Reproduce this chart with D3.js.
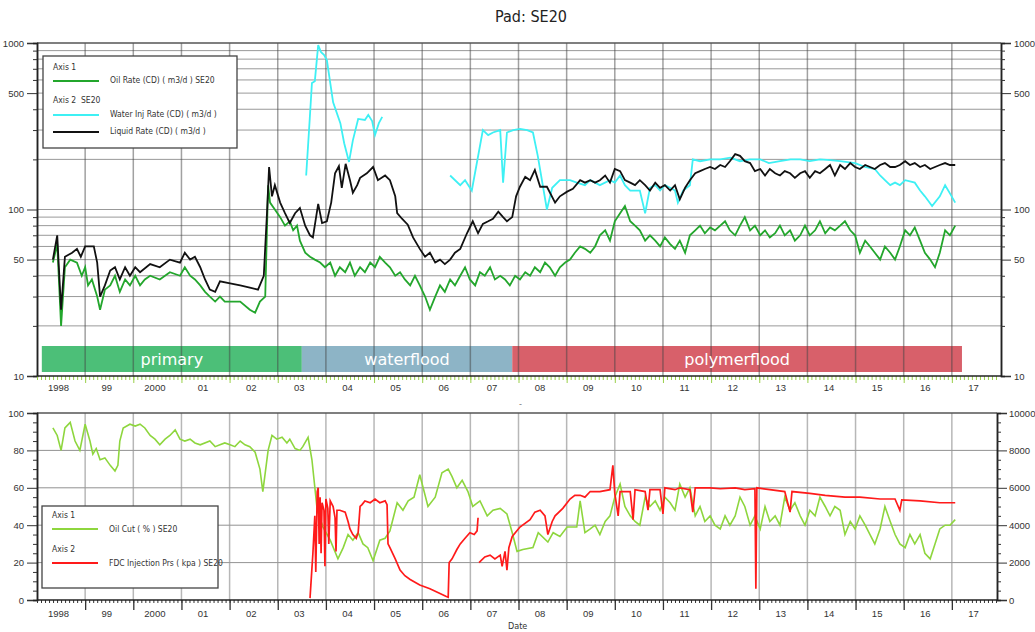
<!DOCTYPE html>
<html>
<head>
<meta charset="utf-8">
<script src="https://cdn.jsdelivr.net/npm/d3@7"></script>
<style>
  body { margin: 0; background: #fff; }
  svg { display: block; font-family: "Liberation Sans Narrow", "Arial Narrow", "DejaVu Sans Condensed", sans-serif; font-stretch: condensed; }
</style>
</head>
<body>
<svg id="chart" width="1035" height="632"></svg>
<script>
/* Pad SE20 production history: rates on a log axis (top),
   oil cut and injection pressure (bottom). Dates are decimal years. */

var oilRate = [[1998.33,48],[1998.42,62],[1998.50,20],[1998.58,45],[1998.69,50],[1998.83,48],[1998.93,40],[1999.00,45],[1999.06,35],[1999.14,38],[1999.25,30],[1999.31,25],[1999.41,33],[1999.52,35],[1999.62,40],[1999.72,32],[1999.83,38],[1999.93,35],[2000.04,40],[2000.14,35],[2000.24,38],[2000.35,40],[2000.55,38],[2000.76,42],[2000.97,40],[2001.07,45],[2001.18,40],[2001.28,38],[2001.39,35],[2001.49,32],[2001.59,30],[2001.70,28],[2001.80,30],[2001.90,28],[2002.01,28],[2002.22,28],[2002.42,25],[2002.53,24],[2002.63,28],[2002.74,30],[2002.80,140],[2002.84,110],[2002.94,100],[2003.05,90],[2003.15,80],[2003.25,85],[2003.32,75],[2003.40,80],[2003.46,65],[2003.57,55],[2003.67,52],[2003.77,50],[2003.88,48],[2003.98,45],[2004.09,48],[2004.19,40],[2004.29,45],[2004.40,42],[2004.50,48],[2004.60,40],[2004.71,45],[2004.81,42],[2004.92,48],[2005.02,45],[2005.12,52],[2005.23,48],[2005.33,45],[2005.44,40],[2005.54,42],[2005.64,38],[2005.75,35],[2005.85,40],[2005.95,35],[2006.06,30],[2006.16,25],[2006.27,30],[2006.37,35],[2006.47,32],[2006.58,38],[2006.68,35],[2006.79,40],[2006.89,45],[2006.99,38],[2007.10,35],[2007.20,42],[2007.30,40],[2007.41,45],[2007.51,38],[2007.62,40],[2007.72,38],[2007.82,35],[2007.93,40],[2008.03,38],[2008.14,42],[2008.24,40],[2008.34,45],[2008.45,42],[2008.55,48],[2008.65,45],[2008.76,40],[2008.86,45],[2008.97,48],[2009.07,50],[2009.17,55],[2009.28,60],[2009.38,58],[2009.49,55],[2009.59,60],[2009.69,70],[2009.80,75],[2009.90,65],[2010.00,85],[2010.11,95],[2010.21,105],[2010.32,85],[2010.42,80],[2010.52,75],[2010.63,65],[2010.73,70],[2010.84,65],[2010.94,60],[2011.04,68],[2011.15,62],[2011.25,58],[2011.35,65],[2011.46,55],[2011.56,70],[2011.67,75],[2011.77,80],[2011.87,72],[2011.98,78],[2012.08,75],[2012.19,80],[2012.29,85],[2012.39,75],[2012.50,70],[2012.60,80],[2012.70,90],[2012.81,75],[2012.91,80],[2013.02,70],[2013.12,75],[2013.22,68],[2013.33,72],[2013.43,80],[2013.53,70],[2013.64,75],[2013.74,65],[2013.85,70],[2013.95,80],[2014.05,70],[2014.16,75],[2014.26,85],[2014.37,72],[2014.47,78],[2014.57,75],[2014.68,80],[2014.78,85],[2014.89,75],[2014.99,70],[2015.09,55],[2015.20,65],[2015.30,60],[2015.40,55],[2015.51,50],[2015.61,60],[2015.72,55],[2015.82,50],[2015.92,60],[2016.03,75],[2016.13,70],[2016.23,78],[2016.34,65],[2016.44,55],[2016.55,50],[2016.65,45],[2016.75,55],[2016.86,75],[2016.96,70],[2017.07,80]];

var liquidRate = [[1998.33,50],[1998.42,70],[1998.50,25],[1998.58,52],[1998.73,55],[1998.83,58],[1998.91,52],[1999.00,60],[1999.18,60],[1999.25,48],[1999.31,30],[1999.41,35],[1999.52,43],[1999.62,45],[1999.72,38],[1999.83,45],[1999.93,40],[2000.04,45],[2000.14,42],[2000.35,47],[2000.55,45],[2000.76,50],[2000.97,48],[2001.07,55],[2001.18,50],[2001.28,52],[2001.39,45],[2001.49,38],[2001.59,33],[2001.70,32],[2001.80,37],[2002.01,36],[2002.22,35],[2002.42,34],[2002.59,33],[2002.71,40],[2002.78,100],[2002.82,180],[2002.88,120],[2002.94,140],[2003.05,110],[2003.15,95],[2003.25,83],[2003.36,95],[2003.46,102],[2003.57,80],[2003.67,70],[2003.73,68],[2003.84,108],[2003.92,83],[2004.02,85],[2004.11,110],[2004.19,165],[2004.27,182],[2004.33,135],[2004.41,188],[2004.50,150],[2004.56,126],[2004.65,140],[2004.71,155],[2004.85,165],[2004.98,180],[2005.08,150],[2005.23,160],[2005.33,150],[2005.44,120],[2005.48,95],[2005.58,88],[2005.70,81],[2005.81,68],[2005.95,58],[2006.06,52],[2006.16,55],[2006.27,48],[2006.37,50],[2006.47,47],[2006.58,50],[2006.68,55],[2006.79,58],[2006.93,72],[2007.05,85],[2007.16,72],[2007.26,82],[2007.37,85],[2007.47,88],[2007.58,97],[2007.68,90],[2007.76,85],[2007.87,90],[2007.95,120],[2008.03,137],[2008.14,157],[2008.24,150],[2008.34,173],[2008.45,137],[2008.59,137],[2008.76,110],[2008.86,120],[2009.01,128],[2009.13,133],[2009.28,150],[2009.38,145],[2009.49,150],[2009.59,145],[2009.69,150],[2009.80,160],[2009.90,145],[2010.00,175],[2010.11,170],[2010.21,150],[2010.32,145],[2010.42,140],[2010.52,150],[2010.63,140],[2010.73,130],[2010.84,145],[2010.94,135],[2011.04,140],[2011.15,130],[2011.25,140],[2011.35,115],[2011.46,135],[2011.56,150],[2011.67,165],[2011.77,170],[2011.87,175],[2011.98,180],[2012.08,175],[2012.19,185],[2012.29,180],[2012.39,195],[2012.50,215],[2012.60,210],[2012.70,195],[2012.81,190],[2012.91,170],[2013.02,175],[2013.12,160],[2013.22,175],[2013.33,165],[2013.43,160],[2013.53,170],[2013.64,165],[2013.74,155],[2013.85,165],[2013.95,170],[2014.05,155],[2014.16,170],[2014.26,165],[2014.37,175],[2014.47,185],[2014.57,160],[2014.68,185],[2014.78,175],[2014.89,190],[2014.99,180],[2015.09,175],[2015.20,185],[2015.30,180],[2015.40,175],[2015.51,185],[2015.61,190],[2015.72,180],[2015.82,180],[2015.92,185],[2016.03,195],[2016.13,185],[2016.23,190],[2016.34,180],[2016.44,185],[2016.55,175],[2016.65,180],[2016.75,185],[2016.86,190],[2016.96,185],[2017.07,185]];

// null marks a gap in injection
var waterInj = [[2003.59,160],[2003.65,300],[2003.71,575],[2003.77,590],[2003.84,970],[2003.90,880],[2003.96,850],[2004.02,790],[2004.15,440],[2004.30,330],[2004.38,250],[2004.48,193],[2004.56,260],[2004.67,350],[2004.81,345],[2004.88,370],[2004.96,340],[2005.02,280],[2005.10,330],[2005.17,360],[2005.20,null],
  [2006.58,160],[2006.79,140],[2006.89,150],[2007.03,130],[2007.26,300],[2007.37,280],[2007.47,290],[2007.62,300],[2007.68,145],[2007.76,290],[2007.89,300],[2008.03,305],[2008.18,300],[2008.30,290],[2008.40,210],[2008.59,100],[2008.70,135],[2008.86,150],[2009.07,150],[2009.21,145],[2009.38,140],[2009.49,150],[2009.69,140],[2009.90,150],[2010.00,145],[2010.11,160],[2010.21,140],[2010.32,130],[2010.52,130],[2010.63,95],[2010.73,135],[2010.84,140],[2010.94,130],[2011.04,140],[2011.15,135],[2011.25,130],[2011.31,110],[2011.42,130],[2011.56,140],[2011.62,200],[2011.77,195],[2011.98,200],[2012.19,200],[2012.40,205],[2012.60,195],[2012.80,200],[2013.02,200],[2013.20,190],[2013.43,195],[2013.65,200],[2013.85,200],[2014.05,195],[2014.26,200],[2014.48,198],[2014.68,195],[2014.99,190],[2015.20,180],[2015.40,175],[2015.51,160],[2015.61,150],[2015.72,140],[2015.82,145],[2015.92,140],[2016.03,150],[2016.23,145],[2016.34,130],[2016.44,120],[2016.59,105],[2016.75,120],[2016.86,140],[2016.96,125],[2017.07,110]];

var oilCut = [[1998.33,92],[1998.42,88],[1998.50,80],[1998.58,92],[1998.69,95],[1998.79,85],[1998.89,80],[1999.00,94],[1999.10,85],[1999.16,78],[1999.23,81],[1999.31,75],[1999.41,76],[1999.52,72],[1999.62,69],[1999.68,72],[1999.72,85],[1999.79,92],[1999.93,94],[2000.04,93],[2000.14,94],[2000.24,92],[2000.35,88],[2000.45,86],[2000.55,83],[2000.66,86],[2000.76,88],[2000.87,91],[2000.97,86],[2001.07,85],[2001.18,86],[2001.28,84],[2001.39,83],[2001.59,85],[2001.70,82],[2001.80,83],[2001.90,84],[2002.01,83],[2002.11,82],[2002.22,85],[2002.32,83],[2002.42,82],[2002.53,79],[2002.63,70],[2002.69,58],[2002.80,80],[2002.88,88],[2002.98,86],[2003.09,87],[2003.19,84],[2003.25,86],[2003.36,81],[2003.46,80],[2003.52,82],[2003.63,87],[2003.71,75],[2003.82,48],[2003.94,39],[2004.09,32],[2004.25,22],[2004.36,28],[2004.46,35],[2004.56,32],[2004.67,36],[2004.77,30],[2004.87,28],[2004.98,21],[2005.12,32],[2005.23,33],[2005.33,37],[2005.48,52],[2005.60,48],[2005.71,53],[2005.83,55],[2005.95,67],[2006.12,50],[2006.27,55],[2006.41,68],[2006.54,70],[2006.62,66],[2006.72,60],[2006.83,64],[2006.95,58],[2007.05,50],[2007.20,53],[2007.35,45],[2007.47,48],[2007.62,49],[2007.76,46],[2007.87,36],[2007.97,26],[2008.09,27],[2008.30,28],[2008.41,36],[2008.61,31],[2008.72,36],[2008.86,34],[2009.01,39],[2009.21,39],[2009.28,53],[2009.38,36],[2009.49,38],[2009.59,40],[2009.69,35],[2009.80,42],[2009.90,45],[2010.00,55],[2010.11,62],[2010.21,50],[2010.32,45],[2010.42,42],[2010.52,40],[2010.63,55],[2010.73,50],[2010.84,53],[2010.94,48],[2011.04,55],[2011.15,52],[2011.25,48],[2011.35,62],[2011.46,55],[2011.56,60],[2011.67,45],[2011.77,50],[2011.87,42],[2011.98,45],[2012.08,40],[2012.19,38],[2012.29,45],[2012.39,40],[2012.50,45],[2012.60,55],[2012.70,50],[2012.81,40],[2012.91,45],[2013.02,38],[2013.12,50],[2013.22,42],[2013.33,45],[2013.43,40],[2013.53,55],[2013.64,48],[2013.74,52],[2013.85,45],[2013.95,40],[2014.05,48],[2014.16,45],[2014.26,55],[2014.37,50],[2014.47,45],[2014.57,50],[2014.68,48],[2014.78,35],[2014.89,42],[2014.99,38],[2015.09,45],[2015.20,40],[2015.30,35],[2015.40,30],[2015.51,38],[2015.61,50],[2015.72,42],[2015.82,35],[2015.92,30],[2016.03,28],[2016.13,35],[2016.23,30],[2016.34,35],[2016.44,25],[2016.55,22],[2016.65,30],[2016.75,38],[2016.86,40],[2016.96,40],[2017.07,43]];

var fdcPressure = [[2003.67,100],[2003.73,2500],[2003.77,4500],[2003.79,1500],[2003.82,5800],[2003.84,6000],[2003.86,3000],[2003.88,5500],[2003.90,2500],[2003.92,5200],[2003.96,4800],[2003.98,1800],[2004.00,5400],[2004.04,4900],[2004.06,3000],[2004.09,5300],[2004.15,5000],[2004.19,4400],[2004.21,2600],[2004.23,4800],[2004.29,4800],[2004.40,4700],[2004.46,4200],[2004.50,3800],[2004.56,3500],[2004.63,3300],[2004.67,3600],[2004.71,5000],[2004.75,5100],[2004.81,5300],[2004.92,5200],[2005.02,5400],[2005.12,5200],[2005.23,5300],[2005.27,5100],[2005.29,3000],[2005.33,2800],[2005.44,2200],[2005.54,1600],[2005.64,1300],[2005.75,1100],[2005.95,800],[2006.16,600],[2006.37,350],[2006.49,200],[2006.54,150],[2006.56,2000],[2006.62,2200],[2006.72,2700],[2006.79,3000],[2006.89,3300],[2006.99,3600],[2007.08,3500],[2007.14,3700],[2007.16,4400],[2007.17,null],
  [2007.18,2000],[2007.30,2300],[2007.41,2400],[2007.51,2200],[2007.62,2400],[2007.66,1800],[2007.72,2600],[2007.76,1600],[2007.80,2800],[2007.87,3400],[2008.03,3900],[2008.24,4300],[2008.34,4700],[2008.45,4800],[2008.55,4500],[2008.61,3500],[2008.70,4200],[2008.76,4500],[2008.92,4900],[2009.07,5400],[2009.17,5600],[2009.28,5600],[2009.38,5500],[2009.49,5800],[2009.69,5800],[2009.90,5900],[2009.96,7200],[2010.00,5700],[2010.07,4500],[2010.11,5800],[2010.32,5800],[2010.38,4300],[2010.42,5900],[2010.63,5800],[2010.69,4800],[2010.73,5900],[2010.94,5900],[2011.00,4600],[2011.04,6000],[2011.25,5900],[2011.35,6000],[2011.56,5900],[2011.62,4700],[2011.67,6000],[2011.98,6000],[2012.19,5950],[2012.50,6000],[2012.70,5900],[2012.91,5950],[2012.93,600],[2012.95,6000],[2013.22,5900],[2013.53,5800],[2013.64,4700],[2013.68,5800],[2014.05,5700],[2014.37,5600],[2014.78,5500],[2015.09,5500],[2015.51,5400],[2015.82,5400],[2015.92,4800],[2015.96,5350],[2016.34,5300],[2016.75,5200],[2017.07,5200]];

var yearLabels = ["1998","99","2000","01","02","03","04","05","06","07","08","09","10","11","12","13","14","15","16","17"];
var rateMajor = [10, 50, 100, 500, 1000];
var rateMinor = [20, 30, 40, 60, 70, 80, 90, 200, 300, 400, 600, 700, 800, 900];
var phases = [
  { name: "primary", from: 1998.10, to: 2003.50, color: "#4cbf78" },
  { name: "waterflood", from: 2003.50, to: 2007.87, color: "#8db4c6" },
  { name: "polymerflood", from: 2007.87, to: 2017.21, color: "#d8606a" }
];

var svg = d3.select("#chart");
var L = 37, R = 1000;
var topT = 43, topB = 376, botT = 413, botB = 600;

svg.append("text").attr("x", 531).attr("y", 22).attr("text-anchor", "middle")
  .attr("font-size", 16).attr("fill", "#222").text("Pad: SE20");

var x = d3.scaleLinear().domain([1998, 2018]).range([L, R]);
var yRate = d3.scaleLog().domain([10, 1000]).range([topB, topT]);
var yCut = d3.scaleLinear().domain([0, 100]).range([botB, botT]);
var yPrs = d3.scaleLinear().domain([0, 10000]).range([botB, botT]);

var years = d3.range(1999, 2018);
var months = d3.range(0, 240).map(function (i) { return 1998 + i / 12; });
var midYears = d3.range(1998, 2018).map(function (y) { return y + 0.5; });

/* ---------- top panel ---------- */
var gTop = svg.append("g");

phases.forEach(function (p) {
  gTop.append("rect").attr("x", x(p.from)).attr("y", topB - 30)
    .attr("width", x(p.to) - x(p.from)).attr("height", 26).attr("fill", p.color);
});

gTop.selectAll("line.hg").data(rateMinor.concat([50, 100, 500])).enter().append("line")
  .attr("x1", L).attr("x2", R + 1).attr("y1", function (d) { return yRate(d); }).attr("y2", function (d) { return yRate(d); })
  .attr("stroke", "#555").attr("stroke-opacity", 0.6).attr("stroke-width", 1);
gTop.selectAll("line.vg").data(years).enter().append("line")
  .attr("x1", function (d) { return x(d); }).attr("x2", function (d) { return x(d); })
  .attr("y1", topT).attr("y2", topB)
  .attr("stroke", "#444").attr("stroke-opacity", 0.5).attr("stroke-width", 1.5);
gTop.append("line").attr("x1", L).attr("x2", R + 1).attr("y1", topT).attr("y2", topT)
  .attr("stroke", "#555").attr("stroke-width", 1.5);

phases.forEach(function (p) {
  gTop.append("text").attr("x", (x(p.from) + x(p.to)) / 2).attr("y", topB - 11)
    .attr("text-anchor", "middle").attr("fill", "#fff").attr("font-stretch", "normal")
    .attr("font-family", "'DejaVu Sans', Verdana, sans-serif").attr("font-size", 16).text(p.name);
});

function styleAxis(a) {
  a.select(".domain").attr("stroke", "#222").attr("stroke-width", 1.5);
  a.selectAll("line").attr("stroke", "#333");
  a.selectAll("text").attr("font-family", null).attr("font-size", 9.5).attr("fill", "#333");
}

function logAxes(g, side, xpos) {
  var mk = side === "left" ? d3.axisLeft : d3.axisRight;
  styleAxis(g.append("g").attr("transform", "translate(" + xpos + ",0)")
    .call(mk(yRate).tickValues(rateMajor).tickSize(10).tickPadding(3).tickFormat(d3.format("d"))));
  styleAxis(g.append("g").attr("transform", "translate(" + xpos + ",0)")
    .call(mk(yRate).tickValues(rateMinor).tickSize(4).tickFormat("")));
}
logAxes(gTop, "left", L);
logAxes(gTop, "right", R + 1);

var xTopMinor = gTop.append("g").attr("transform", "translate(0," + topB + ")")
  .call(d3.axisBottom(x).tickValues(months).tickSize(4).tickFormat(""));
xTopMinor.selectAll("line").attr("stroke", "#9ad04a");
xTopMinor.select(".domain").remove();
var xTopMajor = gTop.append("g").attr("transform", "translate(0," + topB + ")")
  .call(d3.axisBottom(x).tickValues(years).tickSize(7).tickFormat(""));
xTopMajor.selectAll("line").attr("stroke", "#9ad04a");
xTopMajor.select(".domain").remove();
gTop.append("line").attr("x1", L).attr("x2", R + 1).attr("y1", topB).attr("y2", topB)
  .attr("stroke", "#222").attr("stroke-width", 1.5);
var xTopLab = gTop.append("g").attr("transform", "translate(-3," + (topB + 5) + ")")
  .call(d3.axisBottom(x).tickValues(midYears).tickSize(0).tickFormat(function (d, i) { return yearLabels[i]; }));
xTopLab.select(".domain").remove();
xTopLab.selectAll("text").attr("font-family", null).attr("font-size", 9.5).attr("fill", "#333");

svg.append("defs").append("clipPath").attr("id", "clipTop").append("rect")
  .attr("x", L).attr("y", topT - 2).attr("width", R - L).attr("height", topB - topT + 2);

var lineRate = d3.line().defined(function (d) { return d[1] != null; })
  .x(function (d) { return x(d[0]); }).y(function (d) { return yRate(d[1]); });
var plotTop = gTop.append("g").attr("clip-path", "url(#clipTop)");
plotTop.append("path").datum(oilRate).attr("d", lineRate).attr("fill", "none").attr("stroke", "#23a62c").attr("stroke-width", 1.8);
plotTop.append("path").datum(waterInj).attr("d", lineRate).attr("fill", "none").attr("stroke", "#3ef0f4").attr("stroke-width", 1.8);
plotTop.append("path").datum(liquidRate).attr("d", lineRate).attr("fill", "none").attr("stroke", "#111").attr("stroke-width", 1.8);

// top legend
var lg = gTop.append("g").attr("font-size", 8.5).attr("fill", "#333");
lg.append("rect").attr("x", 43).attr("y", 56).attr("width", 194).attr("height", 92)
  .attr("fill", "#fff").attr("stroke", "#444").attr("stroke-width", 1.3);
lg.append("text").attr("x", 53).attr("y", 70).text("Axis 1");
lg.append("text").attr("x", 53).attr("y", 103).attr("xml:space", "preserve").text("Axis 2  SE20");
[["Oil Rate (CD) ( m3/d ) SE20", "#23a62c", 81], ["Water Inj Rate (CD) ( m3/d )", "#3ef0f4", 115], ["Liquid Rate (CD) ( m3/d )", "#111", 132]]
  .forEach(function (e) {
    lg.append("line").attr("x1", 53).attr("x2", 99).attr("y1", e[2]).attr("y2", e[2]).attr("stroke", e[1]).attr("stroke-width", 2.2);
    lg.append("text").attr("x", 110).attr("y", e[2] + 2).text(e[0]);
  });

svg.append("text").attr("x", 519).attr("y", 407).attr("font-size", 9).attr("fill", "#777").text("-");

/* ---------- bottom panel ---------- */
var gBot = svg.append("g");
gBot.selectAll("line.hg").data([20, 40, 60, 80]).enter().append("line")
  .attr("x1", L).attr("x2", R - 3).attr("y1", function (d) { return yCut(d); }).attr("y2", function (d) { return yCut(d); })
  .attr("stroke", "#777").attr("stroke-opacity", 0.8).attr("stroke-width", 1);
gBot.selectAll("line.vg").data(years).enter().append("line")
  .attr("x1", function (d) { return x(d); }).attr("x2", function (d) { return x(d); })
  .attr("y1", botT).attr("y2", botB)
  .attr("stroke", "#999").attr("stroke-opacity", 0.7).attr("stroke-width", 1.5);
gBot.append("line").attr("x1", L).attr("x2", R - 3).attr("y1", botT).attr("y2", botT)
  .attr("stroke", "#555").attr("stroke-width", 1.5);

function linAxes(g, scale, side, xpos, major, minor) {
  var mk = side === "left" ? d3.axisLeft : d3.axisRight;
  styleAxis(g.append("g").attr("transform", "translate(" + xpos + ",0)")
    .call(mk(scale).tickValues(major).tickSize(10).tickPadding(side === "left" ? 3 : 2).tickFormat(d3.format("d"))));
  styleAxis(g.append("g").attr("transform", "translate(" + xpos + ",0)")
    .call(mk(scale).tickValues(minor).tickSize(4).tickFormat("")));
}
linAxes(gBot, yCut, "left", L, d3.range(0, 101, 20), d3.range(5, 100, 5).filter(function (v) { return v % 20; }));
linAxes(gBot, yPrs, "right", R - 3, d3.range(0, 10001, 2000), d3.range(500, 10000, 500).filter(function (v) { return v % 2000; }));

var xBotMinor = gBot.append("g").attr("transform", "translate(0," + botB + ")")
  .call(d3.axisBottom(x).tickValues(months).tickSize(3).tickFormat(""));
xBotMinor.selectAll("line").attr("stroke", "#333");
xBotMinor.select(".domain").remove();
var xBotMajor = gBot.append("g").attr("transform", "translate(0," + botB + ")")
  .call(d3.axisBottom(x).tickValues(years).tickSize(10).tickFormat(""));
xBotMajor.selectAll("line").attr("stroke", "#333").attr("stroke-width", 1.3);
xBotMajor.select(".domain").remove();
gBot.append("line").attr("x1", L).attr("x2", R - 3).attr("y1", botB).attr("y2", botB)
  .attr("stroke", "#222").attr("stroke-width", 1.5);
var xBotLab = gBot.append("g").attr("transform", "translate(-3," + (botB + 7) + ")")
  .call(d3.axisBottom(x).tickValues(midYears).tickSize(0).tickFormat(function (d, i) { return yearLabels[i]; }));
xBotLab.select(".domain").remove();
xBotLab.selectAll("text").attr("font-family", null).attr("font-size", 9.5).attr("fill", "#333");
svg.append("text").attr("x", 508).attr("y", 629).attr("font-size", 9).attr("fill", "#333").text("Date");

var lineCut = d3.line().x(function (d) { return x(d[0]); }).y(function (d) { return yCut(d[1]); });
var linePrs = d3.line().defined(function (d) { return d[1] != null; })
  .x(function (d) { return x(d[0]); }).y(function (d) { return yPrs(d[1]); });
gBot.append("path").datum(oilCut).attr("d", lineCut).attr("fill", "none").attr("stroke", "#8ed63e").attr("stroke-width", 1.6);
gBot.append("path").datum(fdcPressure).attr("d", linePrs).attr("fill", "none").attr("stroke", "#ff1a1a").attr("stroke-width", 1.7);

// bottom legend
var lb = gBot.append("g").attr("font-size", 8.5).attr("fill", "#333");
lb.append("rect").attr("x", 42).attr("y", 506).attr("width", 176).attr("height", 82)
  .attr("fill", "#fff").attr("stroke", "#444").attr("stroke-width", 1.3);
lb.append("text").attr("x", 52).attr("y", 518).text("Axis 1");
lb.append("text").attr("x", 52).attr("y", 552).text("Axis 2");
[["Oil Cut ( % ) SE20", "#8ed63e", 529], ["FDC Injection Prs ( kpa ) SE20", "#ff1a1a", 563]].forEach(function (e) {
  lb.append("line").attr("x1", 52).attr("x2", 98).attr("y1", e[2]).attr("y2", e[2]).attr("stroke", e[1]).attr("stroke-width", 2.2);
  lb.append("text").attr("x", 109).attr("y", e[2] + 3).text(e[0]);
});
</script>
</body>
</html>
